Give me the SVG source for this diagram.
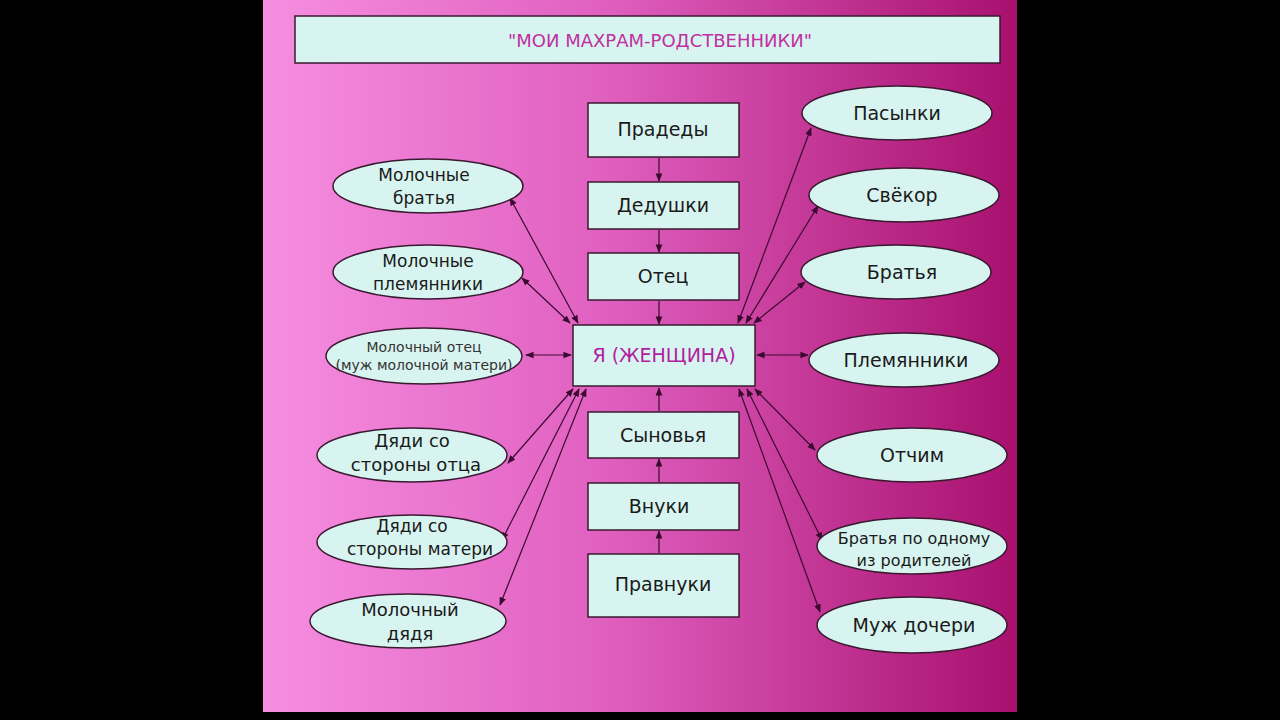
<svg xmlns="http://www.w3.org/2000/svg" width="1280" height="720" viewBox="0 0 1280 720">
<defs>
<linearGradient id="bg" x1="0" y1="0" x2="1" y2="0">
<stop offset="0" stop-color="#f68ee0"/><stop offset="0.45" stop-color="#e060c0"/><stop offset="1" stop-color="#a8106e"/>
</linearGradient>
<marker id="ah" viewBox="0 0 10 10" refX="9" refY="5" markerWidth="7" markerHeight="7" orient="auto-start-reverse"><path d="M0,1 L10,5 L0,9 z" fill="#3a0a30"/></marker>
<style>
.b{fill:#d8f4f0;stroke:#3a1a30;stroke-width:1.5}
.t{font-family:"DejaVu Sans","Noto Sans",sans-serif;font-size:19px;fill:#1a1a1a;text-anchor:middle}
.s{font-size:14px}
.c line{stroke:#3a0a30;stroke-width:1.2;marker-end:url(#ah)}
.c .d{marker-start:url(#ah)}
</style>
</defs>
<rect width="1280" height="720" fill="#000"/>
<rect x="263" y="0" width="754" height="712" fill="url(#bg)"/>
<g id="title"><rect class="b" x="295" y="16" width="705" height="47"/><text class="t" x="660" y="47" fill="#c030a0" style="fill:#c030a0;font-size:18px">"МОИ МАХРАМ-РОДСТВЕННИКИ"</text></g>
<g class="c" id="connectors">
<line x1="659" y1="158" x2="659" y2="181"/><line x1="659" y1="230" x2="659" y2="252"/><line x1="659" y1="301" x2="659" y2="324"/>
<line x1="659" y1="411" x2="659" y2="388"/><line x1="659" y1="482" x2="659" y2="459"/><line x1="659" y1="553" x2="659" y2="531"/>
<line class="d" x1="510" y1="198" x2="578" y2="323"/>
<line class="d" x1="522" y1="278" x2="570" y2="323"/>
<line class="d" x1="526" y1="355" x2="571" y2="355"/>
<line class="d" x1="508" y1="463" x2="573" y2="389"/>
<line class="d" x1="502" y1="540" x2="579" y2="389"/>
<line class="d" x1="500" y1="605" x2="586" y2="389"/>
<line class="d" x1="811" y1="128" x2="738" y2="323"/>
<line class="d" x1="818" y1="206" x2="746" y2="323"/>
<line class="d" x1="805" y1="282" x2="754" y2="323"/>
<line class="d" x1="808" y1="355" x2="757" y2="355"/>
<line class="d" x1="815" y1="450" x2="755" y2="389"/>
<line class="d" x1="822" y1="540" x2="747" y2="389"/>
<line class="d" x1="820" y1="612" x2="739" y2="389"/>
</g>
<g id="pradedy"><rect class="b" x="588" y="103" width="151" height="54"/><text class="t" x="663" y="136">Прадеды</text></g>
<g id="dedushki"><rect class="b" x="588" y="182" width="151" height="47"/><text class="t" x="663" y="212">Дедушки</text></g>
<g id="otec"><rect class="b" x="588" y="253" width="151" height="47"/><text class="t" x="663" y="283">Отец</text></g>
<g id="ya"><rect class="b" x="573" y="325" width="182" height="61"/><text class="t" x="664" y="362" style="fill:#b020a0">Я (ЖЕНЩИНА)</text></g>
<g id="synovya"><rect class="b" x="588" y="412" width="151" height="46"/><text class="t" x="663" y="442">Сыновья</text></g>
<g id="vnuki"><rect class="b" x="588" y="483" width="151" height="47"/><text class="t" x="659" y="513">Внуки</text></g>
<g id="pravnuki"><rect class="b" x="588" y="554" width="151" height="63"/><text class="t" x="663" y="591">Правнуки</text></g>
<g id="mol-bratya"><ellipse class="b" cx="428" cy="186" rx="95" ry="27"/><text class="t" x="424" y="181" style="font-size:17px">Молочные</text><text class="t" x="424" y="204" style="font-size:17px">братья</text></g>
<g id="mol-plem"><ellipse class="b" cx="428" cy="272" rx="95" ry="27"/><text class="t" x="428" y="267" style="font-size:17px">Молочные</text><text class="t" x="428" y="290" style="font-size:17px">племянники</text></g>
<g id="mol-otec"><ellipse class="b" cx="424" cy="356" rx="98" ry="28"/><text class="t s" x="424" y="352" style="fill:#333">Молочный отец</text><text class="t s" x="424" y="370" style="fill:#333">(муж молочной матери)</text></g>
<g id="dyadi-otca"><ellipse class="b" cx="412" cy="455" rx="95" ry="27"/><text class="t" x="412" y="447" style="font-size:18px">Дяди со</text><text class="t" x="416" y="471" style="font-size:18px">стороны отца</text></g>
<g id="dyadi-materi"><ellipse class="b" cx="412" cy="542" rx="95" ry="27"/><text class="t" x="412" y="532" style="font-size:17px">Дяди со</text><text class="t" x="420" y="555" style="font-size:17px">стороны матери</text></g>
<g id="mol-dyadya"><ellipse class="b" cx="408" cy="621" rx="98" ry="27"/><text class="t" x="410" y="616" style="font-size:18px">Молочный</text><text class="t" x="410" y="640" style="font-size:18px">дядя</text></g>
<g id="pasynki"><ellipse class="b" cx="897" cy="113" rx="95" ry="27"/><text class="t" x="897" y="120">Пасынки</text></g>
<g id="svekor"><ellipse class="b" cx="904" cy="195" rx="95" ry="27"/><text class="t" x="902" y="202">Свёкор</text></g>
<g id="bratya"><ellipse class="b" cx="896" cy="272" rx="95" ry="27"/><text class="t" x="902" y="279">Братья</text></g>
<g id="plemyanniki"><ellipse class="b" cx="904" cy="360" rx="95" ry="27"/><text class="t" x="906" y="367">Племянники</text></g>
<g id="otchim"><ellipse class="b" cx="912" cy="455" rx="95" ry="27"/><text class="t" x="912" y="462">Отчим</text></g>
<g id="bratya-odnomu"><ellipse class="b" cx="912" cy="546" rx="95" ry="28"/><text class="t" x="914" y="544" style="font-size:16px">Братья по одному</text><text class="t" x="914" y="566" style="font-size:16px">из родителей</text></g>
<g id="muzh-docheri"><ellipse class="b" cx="912" cy="625" rx="95" ry="28"/><text class="t" x="914" y="632">Муж дочери</text></g>
</svg>
